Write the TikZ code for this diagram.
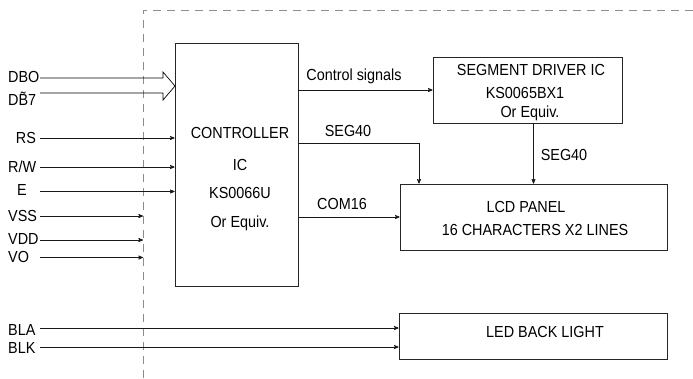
\documentclass[tikz,border=0pt]{standalone}
\usepackage{fontspec}
\setmainfont{Liberation Sans}[FakeStretch=0.9]
\usetikzlibrary{arrows,calc,positioning}

\begin{document}
\begin{tikzpicture}[>=stealth', x=1pt, y=-1pt,
    every node/.style={font=\fontsize{16}{19}\selectfont, inner sep=0pt, text height=11.5pt, text depth=0pt},
    block/.style={draw=black!85, line width=0.8pt},
    wire/.style={->, line width=0.7pt, black!90},
    frame/.style={draw=gray!90, line width=1pt, dash pattern=on 8pt off 6pt}]

    \useasboundingbox (0,0) rectangle (693,378);

    % module outline
    \coordinate (frame-top) at (143,10);
    \draw[frame] (frame-top |- 0,378) -- (frame-top) -- (693,10);

    % blocks
    \node[block, minimum width=123pt, minimum height=243pt] (ctrl)   at (236.5,164.5) {};
    \node[block, minimum width=189pt, minimum height=66pt]  (segdrv) at (527.5,90) {};
    \node[block, minimum width=267pt, minimum height=66pt]  (lcd)    at (533.5,217) {};
    \node[block, minimum width=268pt, minimum height=46pt]  (led)    at (533,336) {};

    % block texts
    \node (ctrl-1) at (240,133) {CONTROLLER};
    \node (ctrl-2) at (240,165) {IC};
    \node (ctrl-3) at (240,193) {KS0066U};
    \node (ctrl-4) at (240,222) {Or Equiv.};
    \node (seg-1)  at (531,70)  {SEGMENT DRIVER IC};
    \node (seg-2)  at (525,93)  {KS0065BX1};
    \node (seg-3)  at (530,112) {Or Equiv.};
    \node (lcd-1)  at (526,207) {LCD PANEL};
    \node (lcd-2)  at (535,230) {16 CHARACTERS X2 LINES};
    \node (led-1)  at (545,332) {LED BACK LIGHT};

    % pin names
    \node[anchor=west] (pin-dbo) at (8,77)  {DBO};
    \node[anchor=west] (pin-db7) at (8,100) {D\~{B}7};
    \node              (pin-rs)  at (26,138) {RS};
    \node[anchor=west] (pin-rw)  at (8,167) {R/W};
    \node              (pin-e)   at (22,190) {E};
    \node[anchor=west] (pin-vss) at (8,216) {VSS};
    \node[anchor=west] (pin-vdd) at (8,239) {VDD};
    \node[anchor=west] (pin-vo)  at (8,257) {VO};
    \node[anchor=west] (pin-bla) at (8,330) {BLA};
    \node[anchor=west] (pin-blk) at (8,348) {BLK};

    % pin wires
    \coordinate (dbo-in) at (40,78);
    \coordinate (db7-in) at (40,93);
    \coordinate (bus-tip) at (175,86);
    \coordinate (rs-in)  at (40,138);
    \coordinate (rw-in)  at (40,167);
    \coordinate (e-in)   at (40,191.5);
    \coordinate (vss-in) at (40,216);
    \coordinate (vdd-in) at (40,240);
    \coordinate (vo-in)  at (40,257.5);
    \coordinate (bla-in) at (40,328);
    \coordinate (blk-in) at (40,347);

    \draw[line width=0.7pt] (dbo-in) -- (163,78) -- (163,72) -- (bus-tip) -- (163,100) -- (163,93) -- (db7-in);
    \draw[wire] (rs-in) -- (rs-in -| ctrl.west);
    \draw[wire] (rw-in) -- (rw-in -| ctrl.west);
    \draw[wire] (e-in) -- (e-in -| ctrl.west);
    \draw[wire] (vss-in) -- (vss-in -| frame-top);
    \draw[wire] (vdd-in) -- (vdd-in -| frame-top);
    \draw[wire] (vo-in) -- (vo-in -| frame-top);
    \draw[wire] (bla-in) -- (bla-in -| led.west);
    \draw[wire] (blk-in) -- (blk-in -| led.west);

    % internal signals
    \coordinate (seg-bend) at (419,143);
    \draw[wire] (ctrl.east |- segdrv.west) -- (segdrv.west);
    \draw[wire] (seg-bend -| ctrl.east) -- (seg-bend) -- (seg-bend |- lcd.north);
    \draw[wire] (ctrl.east |- lcd.west) -- (lcd.west);
    \draw[wire] (lcd.north |- segdrv.south) -- (lcd.north);

    \node (lbl-ctrl)  at (354,75)  {Control signals};
    \node (lbl-seg)   at (348,131) {SEG40};
    \node (lbl-com)   at (342,204) {COM16};
    \node (lbl-seg-2) at (564,155) {SEG40};

\end{tikzpicture}
\end{document}
